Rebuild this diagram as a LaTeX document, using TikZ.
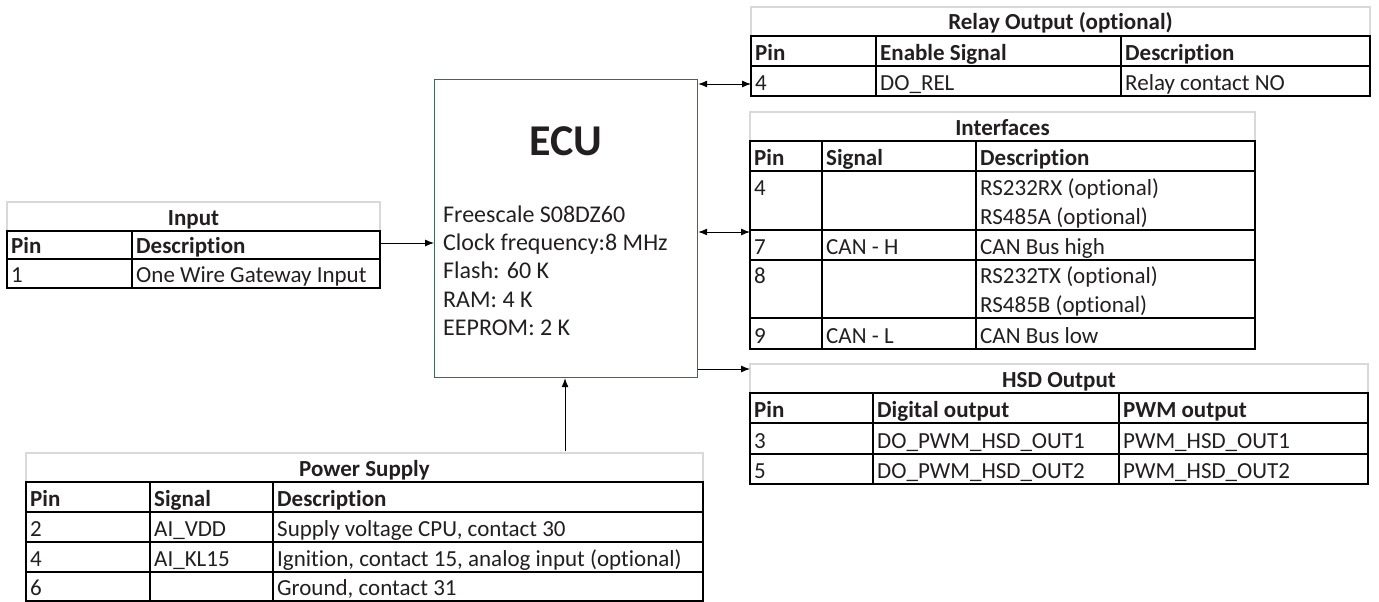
\documentclass[tikz,border=0pt]{standalone}
\usepackage{fontspec}
\setmainfont{Carlito}[Ligatures={NoCommon}]
\usetikzlibrary{arrows.meta}
\definecolor{txt}{RGB}{35,31,32}
\definecolor{ttl}{RGB}{217,217,217}
\definecolor{ecuc}{RGB}{62,105,85}
\begin{document}
\begin{tikzpicture}[x=1pt,y=-1pt,
  cell/.style={anchor=base west, inner sep=0pt, text=txt, font=\fontsize{23}{28}\selectfont},
  hcell/.style={cell, font=\fontsize{23}{28}\selectfont\bfseries},
  ttlcell/.style={anchor=base, inner sep=0pt, text=txt, font=\fontsize{23}{28}\selectfont\bfseries},
  ecutext/.style={anchor=base west, inner sep=0pt, text=txt, font=\fontsize{24}{28}\selectfont},
  gridline/.style={draw=black, line width=1.6pt},
  ttlbox/.style={draw=ttl, line width=1.6pt},
  conn/.style={line width=0.9pt, draw=black},
  ah/.tip={Latex[length=9pt,width=7pt]},
]
\useasboundingbox (0,0) rectangle (1379,602);

% ---------------- ECU ----------------
\node[draw=ecuc, line width=1.2pt, minimum width=263pt, minimum height=298pt,
      anchor=north west, inner sep=0pt] (ecu) at (434,79) {};
\node[anchor=base, inner sep=0pt, text=txt, font=\fontsize{44}{50}\selectfont\bfseries] (ecutitle) at (566,155) {ECU};
\node[ecutext] (ecu1) at (443,222) {Freescale S08DZ60};
\node[ecutext] (ecu2) at (443,250.5) {Clock frequency:8 MHz};
\node[ecutext] (ecu3) at (443,278.5) {Flash: 60 K};
\node[ecutext] (ecu4) at (443,307) {RAM: 4 K};
\node[ecutext] (ecu5) at (443,335) {EEPROM: 2 K};

% ---------------- Relay Output ----------------
\draw[ttlbox] (751,7) rectangle (1370,36);
\draw[gridline] (751,36) rectangle (1370,96);
\draw[gridline] (751,66) -- (1370,66);
\draw[gridline] (876,36) -- (876,96);
\draw[gridline] (1121,36) -- (1121,96);
\node[ttlcell] (relayT) at (1060.5,30) {Relay Output (optional)};
\node[hcell] (relayH1) at (755,60) {Pin};
\node[hcell] (relayH2) at (880,60) {Enable Signal};
\node[hcell] (relayH3) at (1125,60) {Description};
\node[cell] (relayA1) at (755,90) {4};
\node[cell] (relayA2) at (880,90) {DO\_REL};
\node[cell] (relayA3) at (1125,90) {Relay contact NO};
\coordinate (relayL) at (751,84);

% ---------------- Interfaces ----------------
\draw[ttlbox] (750,112) rectangle (1255,141);
\draw[gridline] (750,141) rectangle (1255,349);
\foreach \yy in {171,230,260,318} \draw[gridline] (750,\yy) -- (1255,\yy);
\draw[gridline] (822,141) -- (822,349);
\draw[gridline] (976,141) -- (976,349);
\node[ttlcell] (ifT) at (1002.5,135) {Interfaces};
\node[hcell] (ifH1) at (754,165) {Pin};
\node[hcell] (ifH2) at (826,165) {Signal};
\node[hcell] (ifH3) at (980,165) {Description};
\node[cell] (ifA1) at (754,195) {4};
\node[cell] (ifA3) at (980,195) {RS232RX (optional)};
\node[cell] (ifA4) at (980,224) {RS485A (optional)};
\node[cell] (ifB1) at (754,254) {7};
\node[cell] (ifB2) at (826,254) {CAN - H};
\node[cell] (ifB3) at (980,254) {CAN Bus high};
\node[cell] (ifC1) at (754,283) {8};
\node[cell] (ifC3) at (980,283) {RS232TX (optional)};
\node[cell] (ifC4) at (980,312) {RS485B (optional)};
\node[cell] (ifD1) at (754,343) {9};
\node[cell] (ifD2) at (826,343) {CAN - L};
\node[cell] (ifD3) at (980,343) {CAN Bus low};
\coordinate (ifL) at (750,232);

% ---------------- HSD Output ----------------
\draw[ttlbox] (750,364) rectangle (1368,393);
\draw[gridline] (750,393) rectangle (1368,484);
\draw[gridline] (750,423) -- (1368,423);
\draw[gridline] (750,454) -- (1368,454);
\draw[gridline] (873,393) -- (873,484);
\draw[gridline] (1119,393) -- (1119,484);
\node[ttlcell] (hsdT) at (1059,387) {HSD Output};
\node[hcell] (hsdH1) at (754,417) {Pin};
\node[hcell] (hsdH2) at (877,417) {Digital output};
\node[hcell] (hsdH3) at (1123,417) {PWM output};
\node[cell] (hsdA1) at (754,448) {3};
\node[cell] (hsdA2) at (877,448) {DO\_PWM\_HSD\_OUT1};
\node[cell] (hsdA3) at (1123,448) {PWM\_HSD\_OUT1};
\node[cell] (hsdB1) at (754,478) {5};
\node[cell] (hsdB2) at (877,478) {DO\_PWM\_HSD\_OUT2};
\node[cell] (hsdB3) at (1123,478) {PWM\_HSD\_OUT2};
\coordinate (hsdL) at (750,369);

% ---------------- Input ----------------
\draw[ttlbox] (7,202) rectangle (380,231);
\draw[gridline] (7,231) rectangle (380,288);
\draw[gridline] (7,259) -- (380,259);
\draw[gridline] (132,231) -- (132,288);
\node[ttlcell] (inT) at (193.5,225) {Input};
\node[hcell] (inH1) at (11,253) {Pin};
\node[hcell] (inH2) at (136,253) {Description};
\node[cell] (inA1) at (11,282) {1};
\node[cell] (inA2) at (136,282) {One Wire Gateway Input};
\coordinate (inR) at (380,243);

% ---------------- Power Supply ----------------
\draw[ttlbox] (26,453) rectangle (703,482);
\draw[gridline] (26,482) rectangle (703,601);
\foreach \yy in {512,542,572} \draw[gridline] (26,\yy) -- (703,\yy);
\draw[gridline] (150,482) -- (150,601);
\draw[gridline] (273,482) -- (273,601);
\node[ttlcell] (pwT) at (364.5,476) {Power Supply};
\node[hcell] (pwH1) at (30,506) {Pin};
\node[hcell] (pwH2) at (154,506) {Signal};
\node[hcell] (pwH3) at (277,506) {Description};
\node[cell] (pwA1) at (30,536) {2};
\node[cell] (pwA2) at (154,536) {AI\_VDD};
\node[cell] (pwA3) at (277,536) {Supply voltage CPU, contact 30};
\node[cell] (pwB1) at (30,566) {4};
\node[cell] (pwB2) at (154,566) {AI\_KL15};
\node[cell] (pwB3) at (277,566) {Ignition, contact 15, analog input (optional)};
\node[cell] (pwC1) at (30,595) {6};
\node[cell] (pwC3) at (277,595) {Ground, contact 31};
\coordinate (pwTop) at (565,451);

% ---------------- Connectors ----------------
\draw[conn,{ah}-{ah}] (ecu.east |- relayL) -- (relayL);
\draw[conn,{ah}-{ah}] (ecu.east |- ifL) -- (ifL);
\draw[conn,-{ah}] (ecu.east |- hsdL) -- (hsdL);
\draw[conn,-{ah}] (inR) -- (ecu.west |- inR);
\draw[conn,-{ah}] (pwTop) -- (pwTop |- ecu.south);
\end{tikzpicture}
\end{document}
